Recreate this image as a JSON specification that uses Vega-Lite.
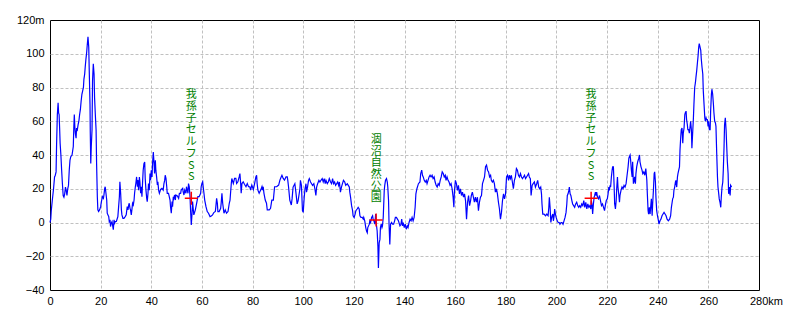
{
  "$schema": "https://vega.github.io/schema/vega-lite/v6.json",
  "width": 709,
  "height": 270,
  "autosize": {"type": "none"},
  "padding": {"left": 50, "top": 20, "right": 41, "bottom": 30},
  "background": "white",
  "config": {
    "view": {"stroke": "#000000", "strokeWidth": 1},
    "axis": {
      "grid": true,
      "gridColor": "#c0c0c0",
      "gridDash": [3, 2],
      "gridWidth": 1,
      "domain": false,
      "ticks": false,
      "labelFont": "Liberation Sans",
      "labelFontSize": 11,
      "labelColor": "#000000",
      "labelFlush": false,
      "labelOverlap": false,
      "title": null
    }
  },
  "datasets": {
    "profile": [
      {"km":0,"m":0},{"km":0.3,"m":2},{"km":0.5,"m":7},{"km":0.9,"m":13},{"km":1.4,"m":20},{"km":1.8,"m":27},{"km":2.1,"m":28},{"km":2.4,"m":30},{"km":2.6,"m":46},{"km":2.9,"m":64},{"km":3.2,"m":71},{"km":3.4,"m":65},{"km":3.6,"m":64},{"km":3.8,"m":56},{"km":4.0,"m":47},{"km":4.3,"m":40},{"km":4.6,"m":31},{"km":4.9,"m":23},{"km":5.2,"m":16},{"km":5.5,"m":15},{"km":5.8,"m":17},{"km":6.1,"m":21},{"km":6.4,"m":19},{"km":6.7,"m":16},{"km":7.0,"m":20},{"km":7.3,"m":22},{"km":7.6,"m":31},{"km":7.9,"m":37},{"km":8.2,"m":39},{"km":8.7,"m":40},{"km":9.2,"m":45},{"km":9.4,"m":56},{"km":9.6,"m":64},{"km":9.8,"m":57},{"km":10.0,"m":53},{"km":10.3,"m":50},{"km":10.5,"m":56},{"km":10.8,"m":55},{"km":11.1,"m":58},{"km":11.4,"m":60},{"km":11.7,"m":64},{"km":12.0,"m":67},{"km":12.3,"m":72},{"km":12.6,"m":76},{"km":12.9,"m":78},{"km":13.2,"m":80},{"km":13.4,"m":85},{"km":13.7,"m":88},{"km":13.9,"m":92},{"km":14.2,"m":97},{"km":14.5,"m":101},{"km":14.7,"m":105},{"km":15.0,"m":110},{"km":15.3,"m":104},{"km":15.5,"m":90},{"km":15.8,"m":70},{"km":15.9,"m":54},{"km":16.1,"m":35},{"km":16.3,"m":45},{"km":16.6,"m":55},{"km":16.8,"m":84},{"km":17.1,"m":94},{"km":17.4,"m":88},{"km":17.6,"m":74},{"km":17.9,"m":64},{"km":18.2,"m":55},{"km":18.4,"m":35},{"km":18.7,"m":15},{"km":18.9,"m":7.5},{"km":19.2,"m":6.5},{"km":19.6,"m":7.5},{"km":20,"m":9.4},{"km":20.3,"m":12.4},{"km":20.7,"m":15.3},{"km":21.1,"m":14.3},{"km":21.3,"m":16.3},{"km":21.6,"m":20.2},{"km":21.8,"m":21.2},{"km":22.1,"m":17.3},{"km":22.4,"m":13.3},{"km":22.6,"m":5.5},{"km":22.9,"m":4.5},{"km":23.2,"m":3.5},{"km":23.4,"m":0.6},{"km":23.7,"m":1.6},{"km":23.9,"m":-2.4},{"km":24.2,"m":-0.4},{"km":24.5,"m":0.6},{"km":24.7,"m":-1.4},{"km":25,"m":-4.3},{"km":25.3,"m":1.6},{"km":25.5,"m":-0.4},{"km":25.8,"m":0.6},{"km":26.2,"m":0.6},{"km":26.6,"m":2.5},{"km":26.8,"m":3.5},{"km":27.1,"m":9.4},{"km":27.4,"m":15.3},{"km":27.6,"m":24.1},
      {"km":27.9,"m":17.3},{"km":28.2,"m":7.5},{"km":28.4,"m":4.5},{"km":28.8,"m":2.5},{"km":29.2,"m":2.5},{"km":29.7,"m":3.5},{"km":30.1,"m":4.5},{"km":30.5,"m":9.4},{"km":30.8,"m":7.5},{"km":31.1,"m":10.4},{"km":31.3,"m":11.4},{"km":31.6,"m":8.4},{"km":31.8,"m":7.5},{"km":32.1,"m":4.5},{"km":32.4,"m":8.4},{"km":32.6,"m":11.4},{"km":32.9,"m":10.4},{"km":33.2,"m":13.3},{"km":33.4,"m":17.3},{"km":33.7,"m":21.2},{"km":33.9,"m":23.1},{"km":34.2,"m":27},{"km":34.5,"m":21.2},{"km":34.7,"m":25.1},{"km":35,"m":19.2},{"km":35.3,"m":27},{"km":35.5,"m":24.1},{"km":35.8,"m":17.3},{"km":36.1,"m":21.2},{"km":36.3,"m":15.3},{"km":36.6,"m":25.1},{"km":36.8,"m":31},{"km":37.1,"m":34.9},{"km":37.4,"m":35.9},{"km":37.6,"m":26.1},{"km":37.9,"m":19.2},{"km":38.2,"m":14.3},{"km":38.4,"m":12.4},{"km":38.7,"m":17.3},{"km":38.9,"m":23.1},{"km":39.2,"m":19.2},{"km":39.5,"m":29},{"km":39.7,"m":25.1},{"km":40,"m":31},{"km":40.3,"m":27},{"km":40.5,"m":34.9},{"km":40.8,"m":41.8},{"km":41.1,"m":34.9},{"km":41.3,"m":29},{"km":41.6,"m":36.9},{"km":41.8,"m":31},{"km":42.1,"m":27},{"km":42.4,"m":22.2},{"km":42.6,"m":24.1},{"km":42.9,"m":19.2},{"km":43.2,"m":17.3},{"km":43.7,"m":19.6},{"km":44.2,"m":20.2},{"km":44.7,"m":19.2},{"km":45,"m":23.1},{"km":45.3,"m":25.1},{"km":45.5,"m":28},{"km":45.8,"m":26.1},{"km":46.1,"m":21.2},{"km":46.3,"m":17.3},{"km":46.8,"m":17.3},{"km":47.1,"m":15.3},{"km":47.4,"m":13.3},{"km":47.6,"m":9.4},{"km":47.9,"m":5.5},{"km":48.2,"m":12.4},{"km":48.4,"m":9.4},{"km":48.7,"m":15.3},{"km":48.9,"m":14.3},{"km":49.2,"m":16.3},{"km":49.5,"m":13.3},{"km":49.7,"m":16.3},{"km":50.3,"m":15.7},{"km":50.8,"m":14.3},{"km":51.1,"m":17.3},{"km":51.6,"m":17.3},{"km":51.8,"m":19.2},{"km":52.4,"m":20.2},{"km":52.6,"m":18.2},{"km":52.9,"m":16.3},{"km":53.2,"m":19.2},{"km":53.7,"m":17.3},{"km":53.9,"m":21.2},{"km":54.2,"m":19.2},{"km":54.5,"m":17.3},{"km":54.7,"m":23.1},{"km":55,"m":21.2},{"km":55.3,"m":15.3},{"km":55.5,"m":7.5},{"km":55.8,"m":-1.4},{"km":56.1,"m":5.5},{"km":56.3,"m":12.4},{"km":56.6,"m":7.5},{"km":56.8,"m":4.5},{"km":57.4,"m":7.5},{"km":57.9,"m":11.4},{"km":58.4,"m":15.3},{"km":58.9,"m":15.3},{"km":59.5,"m":17.3},
      {"km":59.7,"m":21.2},{"km":60,"m":23.1},{"km":60.3,"m":24.1},{"km":60.5,"m":21.2},{"km":60.8,"m":17.3},{"km":61.1,"m":13.3},{"km":61.6,"m":9.4},{"km":62.1,"m":6.5},{"km":62.6,"m":5.5},{"km":63.2,"m":3.5},{"km":63.7,"m":3.9},{"km":64.2,"m":4.5},{"km":64.7,"m":5.9},{"km":65.3,"m":6.5},{"km":65.5,"m":9.4},{"km":65.8,"m":14.3},{"km":66.1,"m":11.4},{"km":66.3,"m":6.5},{"km":66.8,"m":6.5},{"km":67.4,"m":8.4},{"km":67.6,"m":11.4},{"km":67.9,"m":17.3},{"km":68.2,"m":11.4},{"km":68.7,"m":5.5},{"km":69.2,"m":7.5},{"km":69.7,"m":5.5},{"km":70.3,"m":6.5},{"km":70.8,"m":11.4},{"km":71.1,"m":13.3},{"km":71.3,"m":17.3},{"km":71.6,"m":23.1},{"km":71.8,"m":26.1},{"km":72.4,"m":23.1},{"km":72.9,"m":26.1},{"km":73.4,"m":26.1},{"km":73.7,"m":23.1},{"km":74.2,"m":24.1},{"km":74.7,"m":27},{"km":75,"m":29},{"km":75.3,"m":23.1},{"km":75.5,"m":17.3},{"km":75.8,"m":23.1},{"km":76.3,"m":24.1},{"km":76.8,"m":22.7},{"km":77.4,"m":21.2},{"km":77.9,"m":23.1},{"km":78.4,"m":21.2},{"km":78.9,"m":21.2},{"km":79.2,"m":19.2},{"km":79.7,"m":22.2},{"km":80.3,"m":19.6},{"km":80.8,"m":23.1},{"km":81.3,"m":27},{"km":81.6,"m":28},{"km":81.8,"m":23.1},{"km":82.1,"m":19.2},{"km":82.6,"m":17.3},{"km":83.2,"m":19.2},{"km":83.7,"m":21.2},{"km":83.9,"m":19.2},{"km":84.2,"m":21.2},{"km":84.5,"m":17.3},{"km":85,"m":13.3},{"km":85.5,"m":11.4},{"km":85.8,"m":7.5},{"km":86.6,"m":7.5},{"km":87.1,"m":8.4},{"km":87.6,"m":13.3},{"km":88.2,"m":13.3},{"km":88.7,"m":21.2},{"km":89.5,"m":21.2},{"km":90.3,"m":22.2},{"km":90.8,"m":25.1},{"km":91.3,"m":27},{"km":91.6,"m":28},{"km":92.1,"m":26.1},{"km":92.6,"m":25.1},{"km":93.2,"m":27},{"km":93.7,"m":27},{"km":93.9,"m":25.1},{"km":94.2,"m":21.2},{"km":94.7,"m":13.3},{"km":95.3,"m":10.4},{"km":95.6,"m":14},
      {"km":96,"m":21},{"km":96.7,"m":23},{"km":97.1,"m":18},{"km":97.6,"m":11},{"km":98,"m":13},{"km":98.7,"m":20},{"km":98.9,"m":25},{"km":99.3,"m":22},{"km":99.7,"m":7},{"km":100,"m":6},{"km":100.4,"m":15},{"km":100.7,"m":20},{"km":101.1,"m":23},{"km":101.3,"m":18},{"km":101.7,"m":21},{"km":102.1,"m":25},{"km":102.4,"m":26},{"km":102.9,"m":24},{"km":103.3,"m":23},{"km":103.7,"m":22},{"km":104.2,"m":23},{"km":104.6,"m":20},{"km":105,"m":16},{"km":105.3,"m":21},{"km":105.7,"m":23},{"km":106.2,"m":25},{"km":106.6,"m":24},{"km":107,"m":25},{"km":107.5,"m":26},{"km":107.9,"m":24},{"km":108.3,"m":26},{"km":108.7,"m":23},{"km":109,"m":25},{"km":109.5,"m":23},{"km":109.9,"m":24},{"km":110.3,"m":26},{"km":110.8,"m":24},{"km":111.2,"m":23},{"km":111.6,"m":26},{"km":112,"m":23},{"km":112.4,"m":24},{"km":112.8,"m":22},{"km":113.2,"m":23},{"km":113.6,"m":24},{"km":114,"m":22},{"km":114.3,"m":24},{"km":114.7,"m":18},{"km":115.1,"m":21},{"km":115.5,"m":23},{"km":115.9,"m":25},{"km":116.4,"m":24},{"km":116.8,"m":22},{"km":117.4,"m":23},{"km":117.8,"m":22},{"km":118.2,"m":21},{"km":118.4,"m":18},{"km":118.7,"m":15},{"km":119.1,"m":10},{"km":119.5,"m":7},{"km":119.7,"m":4},{"km":120.1,"m":3},{"km":120.5,"m":5},{"km":120.8,"m":7},{"km":121.3,"m":8},{"km":121.7,"m":9},{"km":122.1,"m":8},{"km":122.4,"m":4},{"km":122.8,"m":3},{"km":123.3,"m":3},{"km":123.7,"m":2},{"km":123.9,"m":3},{"km":124.3,"m":1},{"km":124.7,"m":-3},{"km":125,"m":-5},{"km":125.3,"m":-6},{"km":125.5,"m":-3},{"km":125.8,"m":-2},{"km":126.1,"m":-1},{"km":126.3,"m":1},{"km":126.6,"m":0},{"km":127,"m":3},{"km":127.4,"m":4},{"km":127.6,"m":2},{"km":127.9,"m":1},{"km":128.3,"m":-1},{"km":128.6,"m":5},{"km":128.8,"m":0},{"km":129.2,"m":-5},{"km":129.5,"m":-14},{"km":129.7,"m":-27},{"km":130,"m":-12},{"km":130.3,"m":-10},{"km":130.5,"m":-3},{"km":130.8,"m":-1},{"km":131.1,"m":-3},{"km":131.3,"m":-2},{"km":131.6,"m":3},{"km":132,"m":19},{"km":132.2,"m":22},{"km":132.5,"m":25},{"km":132.9,"m":26},{"km":133.2,"m":24},{"km":133.4,"m":21},{"km":133.7,"m":13},{"km":133.9,"m":-1},{"km":134.2,"m":-13},{"km":134.5,"m":-1},{"km":134.9,"m":0},{"km":135.3,"m":-1},{"km":135.7,"m":-1},{"km":136.1,"m":1},{"km":136.4,"m":3},{"km":136.8,"m":3},{"km":137.2,"m":2},{"km":137.6,"m":1},{"km":138.2,"m":-2},{"km":138.6,"m":-1},{"km":138.9,"m":2},{"km":139.2,"m":-2},{"km":139.5,"m":0},{"km":139.9,"m":-3},{"km":140.3,"m":-1},{"km":140.7,"m":-4},{"km":141.1,"m":-2},{"km":141.4,"m":-3},{"km":141.8,"m":0},{"km":142.2,"m":2},{"km":142.6,"m":1},{"km":143,"m":3},{"km":143.4,"m":1},{"km":143.8,"m":3},{"km":144.2,"m":9},{"km":144.5,"m":17},{"km":144.9,"m":20},{"km":145.3,"m":22},{"km":145.5,"m":23},{"km":146.1,"m":24},{"km":146.4,"m":29},{"km":146.8,"m":31},{"km":147.1,"m":28},{"km":147.4,"m":27},{"km":147.8,"m":25},{"km":148.2,"m":24},{"km":148.6,"m":25},{"km":148.9,"m":23},{"km":149.3,"m":25},{"km":149.7,"m":27},{"km":150.1,"m":28},{"km":150.5,"m":27},{"km":150.9,"m":28},{"km":151.3,"m":26},{"km":151.7,"m":27},{"km":152.1,"m":24},{"km":152.5,"m":22},{"km":152.9,"m":21},{"km":153.3,"m":23},{"km":153.7,"m":22},{"km":154.1,"m":25},{"km":154.5,"m":27},{"km":154.9,"m":30},{"km":155.3,"m":29},{"km":155.7,"m":27},{"km":156.1,"m":28},{"km":156.4,"m":25},{"km":156.8,"m":27},{"km":157.2,"m":25},{"km":157.6,"m":24},{"km":158,"m":22},{"km":158.4,"m":23},{"km":158.8,"m":20},{"km":159.2,"m":15},{"km":159.5,"m":9},{"km":159.7,"m":18},{"km":160.1,"m":25},{"km":160.5,"m":23},{"km":160.9,"m":19},{"km":161.3,"m":22},{"km":161.7,"m":17},{"km":162.1,"m":20},{"km":162.5,"m":16},{"km":162.9,"m":18},{"km":163.3,"m":15},{"km":163.7,"m":17},{"km":164.1,"m":13},{"km":164.5,"m":2},{"km":164.9,"m":12},{"km":165.3,"m":16},{"km":165.7,"m":10},{"km":166.1,"m":13},{"km":166.4,"m":16},{"km":166.8,"m":18},{"km":167.2,"m":15},{"km":167.6,"m":12},{"km":168,"m":15},{"km":168.4,"m":12},{"km":168.8,"m":15},{"km":169.2,"m":7},{"km":169.6,"m":12},{"km":170,"m":15},{"km":170.4,"m":16},{"km":170.8,"m":23},{"km":171.2,"m":25},{"km":171.6,"m":27},{"km":172,"m":33},{"km":172.4,"m":34},{"km":172.8,"m":31},{"km":173.2,"m":30},{"km":173.6,"m":27},{"km":174,"m":28},{"km":174.3,"m":25},{"km":174.7,"m":24},{"km":175.1,"m":25},{"km":175.5,"m":23},{"km":175.9,"m":18},{"km":176.3,"m":20},{"km":176.7,"m":17},{"km":177.1,"m":12},{"km":177.5,"m":8},{"km":177.9,"m":2},{"km":178.3,"m":6},{"km":178.7,"m":13},{"km":179.1,"m":17},{"km":179.5,"m":14},{"km":179.9,"m":17},{"km":180.3,"m":27},{"km":180.7,"m":28},{"km":181.1,"m":25},{"km":181.4,"m":28},{"km":181.8,"m":26},{"km":182.2,"m":28},{"km":182.6,"m":24},{"km":183,"m":20},{"km":183.4,"m":25},{"km":183.8,"m":27},{"km":184.2,"m":32},{"km":184.6,"m":31},{"km":185,"m":28},{"km":185.4,"m":27},{"km":185.8,"m":29},{"km":186.2,"m":27},{"km":186.6,"m":26},{"km":187,"m":27},{"km":187.4,"m":28},{"km":187.8,"m":26},{"km":188.2,"m":27},{"km":188.6,"m":28},{"km":189,"m":29},{"km":189.3,"m":27},{"km":189.7,"m":26},{"km":190,"m":16},{"km":190.4,"m":22},{"km":190.8,"m":23},{"km":191.3,"m":24},
      {"km":191.7,"m":21},{"km":192.2,"m":23},{"km":192.6,"m":25},{"km":193,"m":21},{"km":193.4,"m":20},{"km":193.8,"m":21},{"km":194.1,"m":17},{"km":194.3,"m":11},{"km":194.6,"m":5},{"km":195.1,"m":5},{"km":195.7,"m":4},{"km":196.2,"m":5},{"km":196.7,"m":4},{"km":197,"m":9},{"km":197.2,"m":15},{"km":197.5,"m":9},{"km":197.8,"m":0},{"km":198,"m":2},{"km":198.3,"m":4},{"km":198.6,"m":5},{"km":198.8,"m":1},{"km":199.1,"m":4},{"km":199.3,"m":8},{"km":199.6,"m":5},{"km":199.9,"m":3},{"km":200.3,"m":1},{"km":200.7,"m":0},{"km":201.1,"m":0},{"km":201.4,"m":-1},{"km":201.8,"m":0},{"km":202.2,"m":0},{"km":202.6,"m":-1},{"km":203,"m":1},{"km":203.4,"m":3},{"km":203.8,"m":6},{"km":204.1,"m":11},{"km":204.3,"m":16},{"km":204.6,"m":17},{"km":204.9,"m":19},{"km":205.1,"m":21},{"km":205.4,"m":17},{"km":205.7,"m":16},{"km":206.1,"m":13},{"km":206.4,"m":11},{"km":206.8,"m":10},{"km":207.2,"m":9},{"km":207.6,"m":11},{"km":208,"m":12},{"km":208.4,"m":10},{"km":208.8,"m":9},{"km":209.2,"m":10},{"km":209.6,"m":9},{"km":210,"m":11},{"km":210.4,"m":10},{"km":210.8,"m":13},{"km":211.2,"m":9},{"km":211.6,"m":12},{"km":212,"m":8},{"km":212.4,"m":11},{"km":212.8,"m":9},{"km":213.2,"m":10},{"km":213.6,"m":8},{"km":213.8,"m":13},{"km":214.1,"m":10},{"km":214.3,"m":5},{"km":214.6,"m":11},{"km":214.9,"m":15},{"km":215.1,"m":16},{"km":215.4,"m":18},{"km":215.7,"m":16},{"km":215.9,"m":18},{"km":216.2,"m":15},{"km":216.6,"m":14},{"km":217,"m":16},{"km":217.4,"m":13},{"km":217.8,"m":10},{"km":218.2,"m":11},{"km":218.6,"m":9},{"km":219,"m":7},{"km":219.3,"m":10},{"km":219.7,"m":13},{"km":220.1,"m":14},{"km":220.4,"m":17},{"km":220.7,"m":21},{"km":220.9,"m":19},{"km":221.2,"m":22},{"km":221.4,"m":21},{"km":221.7,"m":27},{"km":222,"m":31},{"km":222.2,"m":33},{"km":222.5,"m":33},{"km":222.8,"m":21},{"km":223,"m":11},{"km":223.3,"m":8},{"km":223.6,"m":13},{"km":223.8,"m":20},{"km":224.1,"m":27},{"km":224.3,"m":21},{"km":224.6,"m":17},{"km":224.9,"m":12},{"km":225.1,"m":16},{"km":225.5,"m":19},{"km":225.9,"m":21},{"km":226.3,"m":20},{"km":226.7,"m":22},{"km":227.1,"m":21},{"km":227.5,"m":23},{"km":227.9,"m":28},{"km":228.3,"m":33},{"km":228.6,"m":38},{"km":228.8,"m":39},{"km":229.1,"m":40},{"km":229.3,"m":37},{"km":229.6,"m":31},{"km":229.9,"m":27},{"km":230.1,"m":36},{"km":230.4,"m":23},{"km":230.7,"m":25},{"km":230.9,"m":27},{"km":231.2,"m":23},{"km":231.4,"m":29},{"km":231.7,"m":33},{"km":232.1,"m":36},{"km":232.5,"m":38},{"km":232.8,"m":40},{"km":233,"m":36},{"km":233.4,"m":33},{"km":233.8,"m":31},{"km":234.1,"m":29},{"km":234.5,"m":30},{"km":234.9,"m":28},{"km":235.3,"m":32},{"km":235.7,"m":25},{"km":235.9,"m":17},{"km":236.2,"m":7},{"km":236.4,"m":5},{"km":236.7,"m":9},{"km":237,"m":5},{"km":237.2,"m":9},{"km":237.5,"m":14},{"km":237.8,"m":4},{"km":238,"m":11},{"km":238.3,"m":19},{"km":238.6,"m":29},{"km":238.8,"m":30},{"km":239.1,"m":24},{"km":239.3,"m":15},{"km":239.6,"m":7},{"km":239.9,"m":4},{"km":240.3,"m":1},{"km":240.5,"m":-1},{"km":240.9,"m":1},{"km":241.3,"m":2},{"km":241.7,"m":4},{"km":242.1,"m":5},{"km":242.5,"m":6},{"km":242.9,"m":5},{"km":243.3,"m":4},{"km":243.7,"m":2},{"km":244.2,"m":1},{"km":244.7,"m":2},{"km":245.1,"m":4},{"km":245.4,"m":9},{"km":245.7,"m":12},{"km":245.9,"m":14},{"km":246.2,"m":15},{"km":246.4,"m":19},{"km":246.7,"m":21},{"km":247,"m":24},{"km":247.2,"m":25},{"km":247.5,"m":21},{"km":247.8,"m":27},{"km":248,"m":29},{"km":248.3,"m":31},{"km":248.6,"m":33},{"km":248.8,"m":43},{"km":249.1,"m":51},{"km":249.3,"m":55},{"km":249.6,"m":56},{"km":249.9,"m":47},{"km":250.1,"m":53},{"km":250.4,"m":56},{"km":250.7,"m":64},{"km":250.9,"m":65},{"km":251.2,"m":66},{"km":251.4,"m":61},{"km":251.7,"m":58},{"km":251.9,"m":55},{"km":252.2,"m":55},{"km":252.5,"m":53},{"km":252.8,"m":57},{"km":253,"m":60},{"km":253.3,"m":55},{"km":253.5,"m":44},{"km":253.8,"m":53},{"km":254.1,"m":62},{"km":254.3,"m":70},{"km":254.6,"m":80},{"km":254.9,"m":83},{"km":255.1,"m":86},{"km":255.4,"m":90},{"km":255.7,"m":95},{"km":255.9,"m":98},{"km":256.2,"m":104},{"km":256.4,"m":106},{"km":256.7,"m":104},{"km":257,"m":102},{"km":257.2,"m":97},{"km":257.5,"m":92},{"km":257.8,"m":88},{"km":258,"m":78},{"km":258.3,"m":70},{"km":258.6,"m":62},{"km":258.8,"m":60},{"km":259.1,"m":62},{"km":259.3,"m":61},{"km":259.6,"m":61},{"km":259.9,"m":57},{"km":260.1,"m":60},{"km":260.4,"m":55},{"km":260.7,"m":55},{"km":260.9,"m":66},{"km":261.2,"m":76},{"km":261.4,"m":79},{"km":261.7,"m":76},{"km":262,"m":70},{"km":262.2,"m":65},{"km":262.5,"m":60},{"km":262.8,"m":59},{"km":263,"m":57},{"km":263.3,"m":41},{"km":263.6,"m":27},{"km":263.8,"m":21},{"km":264.1,"m":17},{"km":264.3,"m":14},{"km":264.6,"m":12},{"km":264.9,"m":9},{"km":265.1,"m":15},{"km":265.4,"m":21},{"km":265.7,"m":24},{"km":265.9,"m":31},{"km":266.2,"m":45},{"km":266.4,"m":58},{"km":266.7,"m":62},{"km":267,"m":55},{"km":267.2,"m":47},{"km":267.5,"m":36},{"km":267.8,"m":29},{"km":268,"m":17},{"km":268.3,"m":21},{"km":268.6,"m":16},{"km":268.8,"m":22},{"km":269.2,"m":21}
    ],
    "points": [
      {"km": 55.8, "m": 14.3, "name": "我孫子セルフSS"},
      {"km": 128.8, "m": 1.5, "name": "涸沼自然公園"},
      {"km": 213.7, "m": 14.3, "name": "我孫子セルフSS"}
    ]
  },
  "encoding": {
    "x": {
      "field": "km",
      "type": "quantitative",
      "scale": {"domain": [0, 280], "nice": false, "zero": false},
      "axis": {
        "values": [0, 20, 40, 60, 80, 100, 120, 140, 160, 180, 200, 220, 240, 260, 280],
        "labelExpr": "datum.value == 280 ? '280km' : datum.label",
        "labelPadding": 5,
        "labelOffset": {"condition": {"test": "datum.value == 280", "value": 7}, "value": 0},
        "gridOpacity": {"condition": {"test": "datum.value == 0 || datum.value == 280", "value": 0}, "value": 1}
      }
    },
    "y": {
      "field": "m",
      "type": "quantitative",
      "scale": {"domain": [-40, 120], "nice": false, "zero": false},
      "axis": {
        "values": [-40, -20, 0, 20, 40, 60, 80, 100, 120],
        "labelExpr": "datum.value == 120 ? '120m' : datum.label",
        "labelPadding": 6,
        "gridOpacity": {"condition": {"test": "datum.value == -40 || datum.value == 120", "value": 0}, "value": 1}
      }
    }
  },
  "layer": [
    {
      "data": {"name": "profile"},
      "mark": {"type": "line", "color": "#0000ff", "strokeWidth": 1.2, "interpolate": "linear"}
    },
    {
      "data": {"name": "points"},
      "mark": {"type": "point", "shape": "M-1,0L1,0M0,-1L0,1", "size": 169, "filled": false, "stroke": "#ff0000", "strokeWidth": 1.5, "opacity": 1}
    },
    {
      "data": {"name": "points"},
      "transform": [
        {"filter": "datum.name == '我孫子セルフSS'"},
        {"calculate": "split(datum.name, '')", "as": "chars"}
      ],
      "mark": {
        "type": "text",
        "color": "#008000",
        "font": "Noto Sans CJK JP",
        "fontSize": 11,
        "align": "center",
        "baseline": "bottom",
        "dy": -98,
        "lineHeight": 11.7
      },
      "encoding": {"text": {"field": "chars"}}
    },
    {
      "data": {"name": "points"},
      "transform": [
        {"filter": "datum.name == '涸沼自然公園'"},
        {"calculate": "split(datum.name, '')", "as": "chars"}
      ],
      "mark": {
        "type": "text",
        "color": "#008000",
        "font": "Noto Sans CJK JP",
        "fontSize": 11,
        "align": "center",
        "baseline": "bottom",
        "dy": -75,
        "lineHeight": 11.7
      },
      "encoding": {"text": {"field": "chars"}}
    }
  ]
}
